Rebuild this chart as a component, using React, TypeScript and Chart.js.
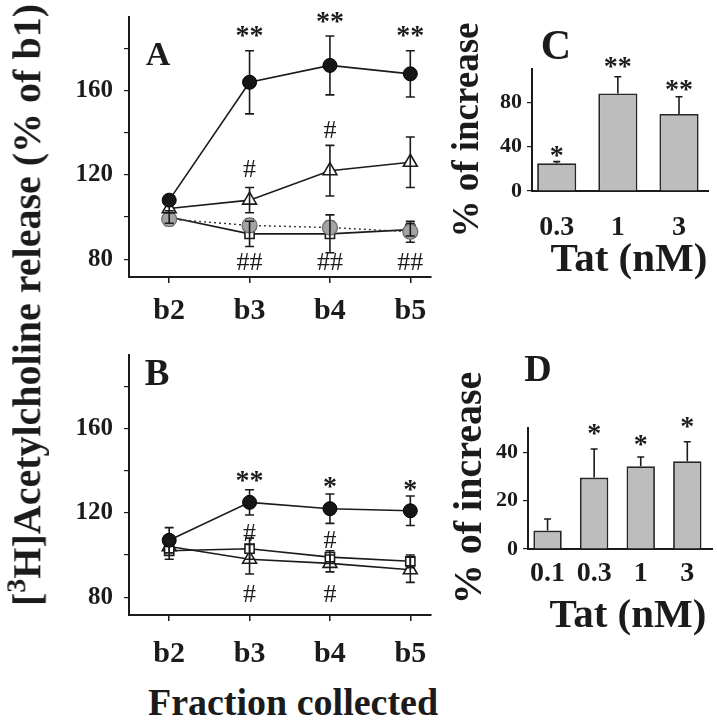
import React, { useEffect, useRef } from 'react';
import { Chart, registerables } from 'chart.js';

Chart.register(...registerables);

const FONT = "'Liberation Serif', 'Times New Roman', serif";
const INK = '#1b1b1b';

// ---------- Panel A / B (time course) ----------
const fractionLabels = ['b2', 'b3', 'b4', 'b5'];
const fractionX = [2, 3, 4, 5];

// Panel A
const aCircleMean = [108, 164, 172, 168];
const aCircleErr = [2, 15, 14, 11];
const aTriangleMean = [104, 108, 122, 126];
const aTriangleErr = [2, 6, 12, 12];
const aGrayMean = [99, 96, 95, 93];
const aGrayErr = [3, 3, 3, 5];
const aSquareMean = [100, 92, 92, 94];
const aSquareErr = [3, 6, 9, 3];

// Panel B
const bCircleMean = [107, 125, 122, 121];
const bCircleErr = [6, 6, 7, 7];
const bSquareMean = [102, 103, 99, 97];
const bSquareErr = [4, 5, 3, 3];
const bTriangleMean = [104, 98, 96, 93];
const bTriangleErr = [3, 7, 4, 6];

const lineYTicks = [80, 100, 120, 140, 160, 180];

// Annotations (x position, value position, text)
const aStarX = [3, 4, 5];
const aStarY = [185.5, 192.2, 185.5];
const aHashUpX = [3, 4];
const aHashUpY = [122.3, 140.9];
const aHashDownX = [3, 4, 5];
const aHashDownY = [78, 78, 78];

const bStarX = [3, 4, 5];
const bStarY = [134.7, 131.8, 130.4];
const bStarText = ['**', '*', '*'];
const bHashUpX = [3, 4];
const bHashUpY = [110, 106.5];
const bHashDownX = [3, 4];
const bHashDownY = [81, 81];

// ---------- Panel C / D (bars) ----------
const cLabels = ['0.3', '1', '3'];
const cMean = [25, 88, 69.5];
const cErr = [1.5, 15, 15.5];
const cStarText = ['*', '**', '**'];
const cStarY = [31, 111, 90.5];
const cYTicks = [0, 20, 40, 60, 80, 100];

const dLabels = ['0.1', '0.3', '1', '3'];
const dMean = [7.6, 29.5, 34.2, 36.3];
const dErr = [4.8, 11.8, 3.8, 8];
const dStarText = ['', '*', '*', '*'];
const dStarY = [0, 47.3, 42.5, 50];
const dYTicks = [0, 10, 20, 30, 40, 50];

// ---------- plugins ----------
const errorBarPlugin = {
  id: 'errbars',
  _draw(chart: any, layer: string) {
    const ctx = chart.ctx;
    const ys = chart.scales.y;
    chart.data.datasets.forEach((ds: any, i: number) => {
      if (!ds.errors) return;
      const onTop = !!ds.errOnTop;
      if ((layer === 'after') !== onTop) return;
      const meta = chart.getDatasetMeta(i);
      const cap = ds.errCap ?? 4.5;
      ctx.save();
      ctx.strokeStyle = INK;
      ctx.lineWidth = 1.6;
      meta.data.forEach((el: any, j: number) => {
        const raw = ds.data[j];
        const val = typeof raw === 'number' ? raw : raw.y;
        const x = el.x;
        const top = ys.getPixelForValue(val + ds.errors[j]);
        const bot = ds.errUpOnly ? ys.getPixelForValue(val) : ys.getPixelForValue(val - ds.errors[j]);
        ctx.beginPath();
        ctx.moveTo(x, top);
        ctx.lineTo(x, bot);
        ctx.moveTo(x - cap, top);
        ctx.lineTo(x + cap, top);
        if (!ds.errUpOnly) {
          ctx.moveTo(x - cap, bot);
          ctx.lineTo(x + cap, bot);
        }
        ctx.stroke();
      });
      ctx.restore();
    });
  },
  beforeDatasetsDraw(chart: any) {
    (errorBarPlugin as any)._draw(chart, 'before');
  },
  afterDatasetsDraw(chart: any) {
    (errorBarPlugin as any)._draw(chart, 'after');
  },
};

const annotPlugin = {
  id: 'annot',
  afterDraw(chart: any, _args: any, opts: any) {
    const items = (opts && opts.items) || [];
    const ctx = chart.ctx;
    ctx.save();
    ctx.fillStyle = INK;
    ctx.textAlign = 'center';
    ctx.textBaseline = 'middle';
    items.forEach((it: any) => {
      if (!it.text) return;
      const x = chart.scales.x.getPixelForValue(it.x);
      const y = chart.scales.y.getPixelForValue(it.y);
      ctx.font = it.font;
      ctx.fillText(it.text, x, y);
    });
    ctx.restore();
  },
};

const STAR_FONT = `bold 28px ${FONT}`;
const HASH_FONT = `26px ${FONT}`;

function items(xs: number[], ys: number[], text: string | string[], font: string) {
  return xs.map((x, i) => ({ x, y: ys[i], text: Array.isArray(text) ? text[i] : text, font }));
}

function pts(ys: number[]) {
  return fractionX.map((x, i) => ({ x, y: ys[i] }));
}

const noPadX = (s: any) => {
  s.paddingLeft = 0;
  s.paddingRight = 0;
};
const noPadY = (s: any) => {
  s.paddingTop = 0;
  s.paddingBottom = 0;
};

function lineConfig(datasets: any[], annots: any[], padTop: number, xHeight: number, labelPad: number) {
  return {
    type: 'line',
    data: { datasets },
    plugins: [errorBarPlugin, annotPlugin],
    options: {
      animation: false,
      responsive: false,
      events: [],
      layout: { padding: { top: padTop, right: 8, left: 0, bottom: 0 } },
      plugins: {
        legend: { display: false },
        tooltip: { enabled: false },
        annot: { items: annots },
      },
      scales: {
        x: {
          type: 'linear',
          min: 1.5,
          max: 5.25,
          afterBuildTicks: (s: any) => {
            s.ticks = fractionX.map((v) => ({ value: v }));
          },
          afterFit: (s: any) => {
            s.height = xHeight;
            noPadX(s);
          },
          ticks: {
            callback: (v: number) => fractionLabels[fractionX.indexOf(v)] ?? '',
            font: { family: FONT, size: 30, weight: 'bold' },
            color: INK,
            padding: labelPad,
            autoSkip: false,
            maxRotation: 0,
          },
          grid: { drawOnChartArea: false, drawTicks: true, tickLength: 6, color: INK, lineWidth: 1.5 },
          border: { color: INK, width: 2 },
        },
        y: {
          type: 'linear',
          min: 71.5,
          max: 195,
          afterBuildTicks: (s: any) => {
            s.ticks = lineYTicks.map((v) => ({ value: v }));
          },
          afterFit: (s: any) => {
            s.width = 89;
            noPadY(s);
          },
          ticks: {
            callback: (v: number) => (v % 40 === 0 ? String(v) : ''),
            font: { family: FONT, size: 25, weight: 'bold' },
            color: INK,
            padding: 11,
          },
          grid: { drawOnChartArea: false, drawTicks: true, tickLength: 5, color: INK, lineWidth: 1.2 },
          border: { color: INK, width: 2 },
        },
      },
    },
  };
}

const filledCircle = (data: number[], err: number[]) => ({
  data: pts(data),
  errors: err,
  borderColor: INK,
  borderWidth: 1.6,
  pointStyle: 'circle',
  pointRadius: 7,
  pointBackgroundColor: '#161616',
  pointBorderColor: '#000',
  pointBorderWidth: 1,
});
const openTriangle = (data: number[], err: number[]) => ({
  data: pts(data),
  errors: err,
  errOnTop: true,
  borderColor: INK,
  borderWidth: 1.6,
  pointStyle: 'triangle',
  pointRadius: 8,
  pointBackgroundColor: '#fff',
  pointBorderColor: INK,
  pointBorderWidth: 1.6,
});
const openSquare = (data: number[], err: number[]) => ({
  data: pts(data),
  errors: err,
  errOnTop: true,
  borderColor: INK,
  borderWidth: 1.6,
  pointStyle: 'rect',
  pointRadius: 6.5,
  pointBackgroundColor: '#fff',
  pointBorderColor: INK,
  pointBorderWidth: 1.6,
});
const grayCircle = (data: number[], err: number[]) => ({
  data: pts(data),
  errors: err,
  borderColor: '#333',
  borderWidth: 1.4,
  borderDash: [2, 3],
  pointStyle: 'circle',
  pointRadius: 7.5,
  pointBackgroundColor: '#a3a3a3',
  pointBorderColor: '#6a6a6a',
  pointBorderWidth: 1.2,
});

const configA = lineConfig(
  [
    filledCircle(aCircleMean, aCircleErr),
    openTriangle(aTriangleMean, aTriangleErr),
    grayCircle(aGrayMean, aGrayErr),
    openSquare(aSquareMean, aSquareErr),
  ],
  [
    ...items(aStarX, aStarY, '**', STAR_FONT),
    ...items(aHashUpX, aHashUpY, '#', HASH_FONT),
    ...items(aHashDownX, aHashDownY, '##', HASH_FONT),
  ],
  17,
  53,
  10
);

const configB = lineConfig(
  [
    filledCircle(bCircleMean, bCircleErr),
    openSquare(bSquareMean, bSquareErr),
    openTriangle(bTriangleMean, bTriangleErr),
  ],
  [
    ...items(bStarX, bStarY, bStarText, STAR_FONT),
    ...items(bHashUpX, bHashUpY, '#', HASH_FONT),
    ...items(bHashDownX, bHashDownY, '#', HASH_FONT),
  ],
  15,
  65,
  15
);

function barConfig(
  labels: string[],
  mean: number[],
  err: number[],
  starText: string[],
  starY: number[],
  yTicks: number[],
  yMax: number,
  labelEvery: number,
  barPct: number,
  xMin: number,
  xMax: number,
  padTop: number,
  padRight: number,
  yWidth: number,
  xHeight: number,
  xPad: number
) {
  const idx = labels.map((_, i) => i);
  return {
    type: 'bar',
    data: {
      datasets: [
        {
          data: mean.map((v, i) => ({ x: idx[i], y: v })),
          errors: err,
          errUpOnly: true,
          errOnTop: true,
          errCap: 3.5,
          backgroundColor: '#bdbdbd',
          borderColor: '#262626',
          borderWidth: 1.8,
          borderSkipped: 'bottom',
          barPercentage: barPct,
          categoryPercentage: 1,
        },
      ],
    },
    plugins: [errorBarPlugin, annotPlugin],
    options: {
      animation: false,
      responsive: false,
      events: [],
      layout: { padding: { top: padTop, right: padRight, left: 0, bottom: 0 } },
      plugins: {
        legend: { display: false },
        tooltip: { enabled: false },
        annot: { items: starText.map((t, i) => ({ x: idx[i], y: starY[i], text: t, font: STAR_FONT })) },
      },
      scales: {
        x: {
          type: 'linear',
          offset: false,
          min: xMin,
          max: xMax,
          afterBuildTicks: (s: any) => {
            s.ticks = idx.map((v) => ({ value: v }));
          },
          afterFit: (s: any) => {
            s.height = xHeight;
            noPadX(s);
          },
          ticks: {
            callback: (v: number) => labels[v] ?? '',
            font: { family: FONT, size: 28, weight: 'bold' },
            color: INK,
            padding: xPad,
            autoSkip: false,
            maxRotation: 0,
          },
          grid: { display: false },
          border: { color: INK, width: 2 },
        },
        y: {
          min: 0,
          max: yMax,
          afterBuildTicks: (s: any) => {
            s.ticks = yTicks.map((v) => ({ value: v }));
          },
          afterFit: (s: any) => {
            s.width = yWidth;
            noPadY(s);
          },
          ticks: {
            callback: (v: number) => (v % labelEvery === 0 ? String(v) : ''),
            font: { family: FONT, size: 22, weight: 'bold' },
            color: INK,
            padding: 5,
          },
          grid: { drawOnChartArea: false, drawTicks: true, tickLength: 5, color: INK, lineWidth: 1.2 },
          border: { color: INK, width: 2 },
        },
      },
    },
  };
}

const configC = barConfig(cLabels, cMean, cErr, cStarText, cStarY, cYTicks, 110, 40, 0.64, -0.404, 2.474, 69, 9, 92, 109, 12);
const configD = barConfig(dLabels, dMean, dErr, dStarText, dStarY, dYTicks, 50, 20, 0.61, -0.42, 3.53, 88, 5, 88, 91, 0);

function ChartCanvas(props: { config: any; left: number; top: number; width: number; height: number }) {
  const ref = useRef<HTMLCanvasElement | null>(null);
  useEffect(() => {
    const chart = new Chart(ref.current as HTMLCanvasElement, props.config);
    return () => chart.destroy();
  }, []);
  return (
    <canvas
      ref={ref}
      width={props.width}
      height={props.height}
      style={{ position: 'absolute', left: props.left, top: props.top, width: props.width, height: props.height }}
    />
  );
}

function Label(props: { text: React.ReactNode; cx: number; cy: number; size: number; rotate?: boolean; weight?: string }) {
  return (
    <div
      style={{
        position: 'absolute',
        left: props.cx,
        top: props.cy,
        transform: `translate(-50%, -50%)${props.rotate ? ' rotate(-90deg)' : ''}`,
        fontFamily: FONT,
        fontWeight: (props.weight as any) || 'bold',
        fontSize: props.size,
        lineHeight: 1,
        color: INK,
        whiteSpace: 'nowrap',
      }}
    >
      {props.text}
    </div>
  );
}

export default function App() {
  return (
    <div style={{ position: 'absolute', left: 0, top: 0, width: 717, height: 720, background: '#fff', overflow: 'hidden' }}>
      <ChartCanvas config={configA} left={40} top={0} width={400} height={330} />
      <ChartCanvas config={configB} left={40} top={340} width={400} height={340} />
      <ChartCanvas config={configC} left={440} top={0} width={277} height={300} />
      <ChartCanvas config={configD} left={440} top={340} width={277} height={300} />

      <Label
        text={
          <span>
            [<sup style={{ fontSize: '0.7em', verticalAlign: '0.55em' }}>3</sup>H]Acetylcholine release (% of b1)
          </span>
        }
        cx={25}
        cy={305}
        size={40}
        rotate
      />
      <Label text="Fraction collected" cx={293} cy={702} size={38} />
      <Label text="A" cx={158} cy={54} size={34} />
      <Label text="B" cx={157} cy={372} size={37} />
      <Label text="C" cx={556} cy={45} size={42} />
      <Label text="D" cx={538} cy={368} size={38} />
      <Label text="% of increase" cx={465} cy={130} size={37} rotate />
      <Label text="% of increase" cx={468} cy={488} size={40} rotate />
      <Label text="Tat (nM)" cx={629} cy={257} size={41} />
      <Label text="Tat (nM)" cx={628} cy={613} size={41} />
    </div>
  );
}
